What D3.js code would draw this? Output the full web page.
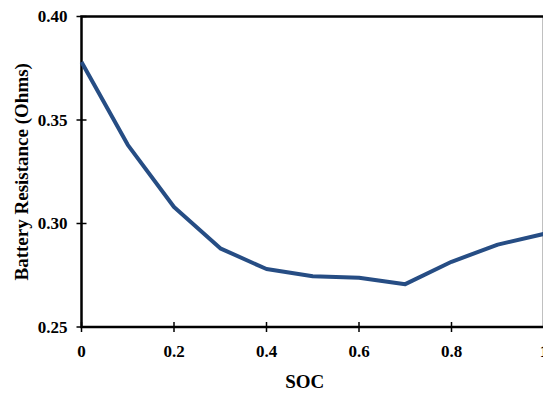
<!DOCTYPE html>
<html><head><meta charset="utf-8">
<script src="https://cdn.jsdelivr.net/npm/d3@7"></script>
<style>body{margin:0;background:#fff}svg{display:block}</style>
</head><body>
<script>
const soc = [0, 0.1, 0.2, 0.3, 0.4, 0.5, 0.6, 0.7, 0.8, 0.9, 1.0];
const resistance = [0.378, 0.338, 0.308, 0.288, 0.278, 0.2745, 0.2738, 0.2707, 0.2815, 0.2898, 0.295];
const xTicks = [0, 0.2, 0.4, 0.6, 0.8, 1];
const yTicks = [0.25, 0.30, 0.35, 0.40];

const W = 543, H = 397;
const mLeft = 81.5, mTop = 16.5, mRight = 544, mBottom = 327;
const svg = d3.select("body").append("svg").attr("width", W).attr("height", H);
const x = d3.scaleLinear().domain([0, 1]).range([mLeft, mRight]);
const y = d3.scaleLinear().domain([0.25, 0.40]).range([mBottom, mTop]);
const font = "'Liberation Serif', 'Times New Roman', serif";

// frame
svg.append("rect").attr("x", mLeft).attr("y", mTop).attr("width", mRight - mLeft).attr("height", mBottom - mTop)
  .attr("fill", "none").attr("stroke", "#000").attr("stroke-width", 2.5);

// y ticks
svg.selectAll(".yt").data(yTicks).join("line")
  .attr("x1", mLeft - 5).attr("x2", mLeft + 5)
  .attr("y1", d => y(d)).attr("y2", d => y(d)).attr("stroke", "#000").attr("stroke-width", 1.5);
svg.selectAll(".yl").data(yTicks).join("text")
  .attr("x", mLeft - 14).attr("y", d => y(d)).attr("dy", "0.35em").attr("text-anchor", "end")
  .attr("font-family", font).attr("font-weight", "bold").attr("font-size", 17)
  .text(d => d3.format(".2f")(d));

// x ticks
svg.selectAll(".xt").data(xTicks).join("line")
  .attr("x1", d => x(d)).attr("x2", d => x(d))
  .attr("y1", mBottom - 5).attr("y2", mBottom + 5).attr("stroke", "#000").attr("stroke-width", 1.5);
svg.selectAll(".xl").data(xTicks).join("text")
  .attr("x", d => x(d)).attr("y", mBottom + 30).attr("text-anchor", "middle")
  .attr("font-family", font).attr("font-weight", "bold").attr("font-size", 17)
  .text(d => d === 0 ? "0" : d === 1 ? "1" : d3.format(".1f")(d));

// line
const line = d3.line().x((d, i) => x(soc[i])).y(d => y(d));
svg.append("path").datum(resistance).attr("d", line)
  .attr("fill", "none").attr("stroke", "#264d84").attr("stroke-width", 4).attr("stroke-linejoin", "round");

// axis titles
svg.append("text").attr("x", (mLeft + mRight) / 2 - 8).attr("y", 388).attr("text-anchor", "middle")
  .attr("font-family", font).attr("font-weight", "bold").attr("font-size", 19).text("SOC");
svg.append("text").attr("transform", `translate(28,${(mTop + mBottom) / 2}) rotate(-90)`).attr("text-anchor", "middle")
  .attr("font-family", font).attr("font-weight", "bold").attr("font-size", 19).text("Battery Resistance (Ohms)");
</script>
</body></html>
